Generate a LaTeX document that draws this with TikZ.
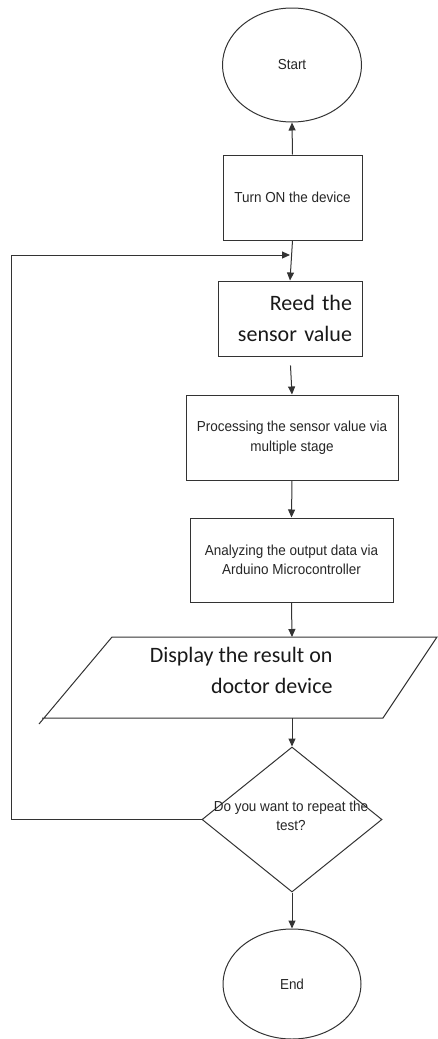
\documentclass[tikz,border=0pt]{standalone}
\usepackage{fontspec}
\setmainfont{Liberation Sans}
\newfontfamily\arialf[FakeStretch=0.93]{Liberation Sans}
\newfontfamily\calf{Carlito}
\usetikzlibrary{shapes.geometric,arrows.meta}
\begin{document}
\begin{tikzpicture}[x=1pt,y=-1pt,line width=1pt,
  lc/.style={draw=black!80},
  sfont/.style={font=\arialf\fontsize{14.5}{19.5}\selectfont},
  term/.style={ellipse, lc, minimum width=139pt, minimum height=114pt, inner sep=0pt, text=black!85, sfont},
  procbox/.style={rectangle, lc, inner sep=0pt, text=black!85, align=center, sfont},
  bigtxt/.style={text=black!90, font=\calf\fontsize{22}{31}\selectfont},
  arr/.style={lc, -{Triangle[length=8pt,width=7pt]}},
]
\useasboundingbox (0,0) rectangle (437,1039);
\node[term] (start) at (292,65) {Start};
\node[procbox, minimum width=139pt, minimum height=85pt] (turnon) at (292.5,197.5) {Turn ON the device};
\node[rectangle, lc, bigtxt, minimum width=144pt, minimum height=75pt, text width=124pt, inner xsep=10pt, inner ysep=0pt, align=right] (reed) at (290,318.5) {Reed the\\sensor value};
\node[procbox, minimum width=212pt, minimum height=85pt] (proc) at (292,437.5) {Processing the sensor value via\\multiple stage};
\node[procbox, minimum width=203pt, minimum height=84pt] (anal) at (291.5,560) {Analyzing the output data via\\Arduino Microcontroller};
% display (input/output) shape
\coordinate (d1) at (112,637);
\coordinate (d2) at (437,637);
\coordinate (d3) at (383,718);
\coordinate (d4) at (39,724);
\coordinate (d5) at (42,718);
\draw[lc] (d4) -- (d1) -- (d2) -- (d3) -- (d5);
\coordinate (disptop) at (292,637);
\coordinate (dispbot) at (292,718);
\node[bigtxt, align=right, anchor=east, inner sep=0pt] (disptext) at (333,670) {Display the result on\\doctor device};
% decision
\node[diamond, lc, minimum width=180pt, minimum height=145pt, inner sep=0pt] (dec) at (292,819.5) {};
\node[text=black!85, align=center, sfont, inner sep=0pt] (dectext) at (291,816) {Do you want to repeat the\\test?};
\node[term, minimum width=138pt, minimum height=110pt] (end) at (292,984) {End};
% connectors
\draw[arr] (turnon.north) -- (start.south);
\draw[arr] (turnon.south) -- (reed.north);
\draw[arr, shorten <=9pt] (reed.south) -- (proc.north);
\draw[arr] (proc.south) -- (anal.north);
\draw[arr] (anal.south) -- (disptop);
\draw[arr] (dispbot) -- (dec.north);
\draw[arr] (dec.south) -- (end.north);
\coordinate (loopc) at (11,255);
\coordinate (loopin) at (290,255);
\draw[arr] (dec.west) -| (loopc) -- (loopin);
\end{tikzpicture}
\end{document}
